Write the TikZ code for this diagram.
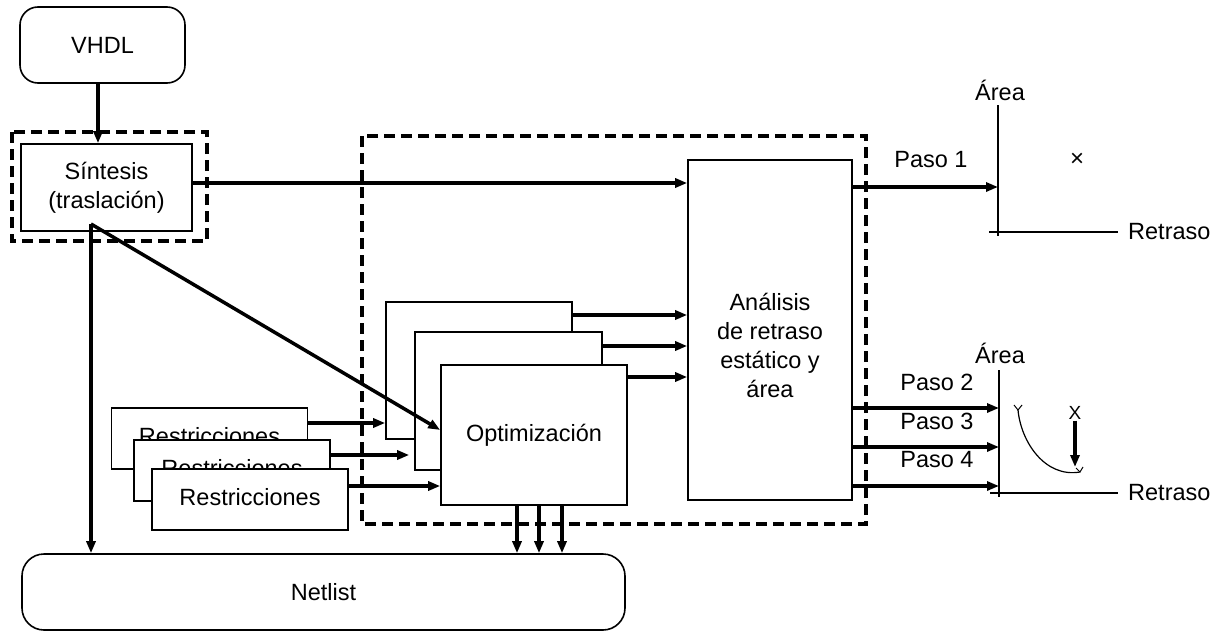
\documentclass[tikz,border=0pt]{standalone}
\usepackage{fontspec}
\setmainfont{Liberation Sans}
\usetikzlibrary{arrows.meta}

\begin{document}
\begin{tikzpicture}[x=1pt, y=-1pt, >={Triangle[length=12pt,width=9pt]},
		font=\fontsize{23.5}{29}\selectfont,
		box/.style={draw, line width=1.6pt, fill=white, inner sep=0pt, align=center},
		roundbox/.style={box, rounded corners=18pt},
		dashframe/.style={line width=3.5pt, dash pattern=on 11pt off 6pt},
		flow/.style={->, line width=3.5pt},
		axisline/.style={line width=1.6pt}]
		\useasboundingbox (0,0) rectangle (1219,632);
		% dashed groups
		\draw[dashframe] (12,132) rectangle (207,241);
		\draw[dashframe] (362,136) rectangle (866,524);
		% blocks
		\node[roundbox, minimum width=165, minimum height=76] (vhdl) at (102.5,45) {VHDL};
		\node[box, minimum width=171, minimum height=87] (sint) at (106.5,187.5) {Síntesis\\(traslación)};
		\node[box, minimum width=164, minimum height=340] (ana) at (770,330) {};
		\node[align=center] (anatxt) at (770,345) {Análisis\\de retraso\\estático y\\área};
		\node[box, minimum width=186, minimum height=137] (opt1) at (479,370.5) {};
		\node[box, minimum width=187, minimum height=138] (opt2) at (508.5,401) {};
		\node[box, minimum width=186, minimum height=140] (opt3) at (534,435) {Optimización};
		\foreach \i/\x/\y in {1/209.5/438.5, 2/232/470.5, 3/250/499.5}
			\node[box, minimum width=196, minimum height=61, text depth=6pt] (res\i) at (\x,\y) {Restricciones};
		\node[roundbox, rounded corners=22pt, minimum width=603, minimum height=76] (net) at (323.5,592) {Netlist};
		% connections
		\draw[flow] (vhdl.south -| 98,0) -- (sint.north -| 98,0);
		\coordinate (src) at (91,224);
		\draw[flow] (src) -- (net.north -| src);
		\draw[flow] (src) -- (opt3.west |- 0,430);
		\draw[flow] (sint.east |- 0,183) -- (ana.west |- 0,183);
		\draw[flow] (res1.east |- 0,423) -- (opt1.west |- 0,423);
		\draw[flow, shorten >=5pt] (res2.east |- 0,455) -- (opt2.west |- 0,455);
		\draw[flow] (res3.east |- 0,486) -- (opt3.west |- 0,486);
		\foreach \n/\y in {opt1/315, opt2/346, opt3/377}
			\draw[flow] (\n.east |- 0,\y) -- (ana.west |- 0,\y);
		\foreach \x in {517,539,562}
			\draw[flow] (opt3.south -| \x,0) -- (net.north -| \x,0);
		% first plot
		\coordinate (o1) at (998,232);
		\draw[axisline] (998,105) -- (998,236);
		\draw[axisline] (989,232) -- (1118,232);
		\node (area1) at (1000,90) {Área};
		\node[anchor=west, inner sep=0pt] (ret1) at (1128,232) {Retraso};
		\draw[flow] (ana.east |- 0,187) -- (o1 |- 0,187);
		\node (p1) at (931,160) {Paso 1};
		\node[font=\fontsize{24}{24}\selectfont] (pt1) at (1077,160) {×};
		% second plot
		\coordinate (o2) at (999,493);
		\draw[axisline] (999,370) -- (999,497);
		\draw[axisline] (990,493) -- (1118,493);
		\node (area2) at (1000,353) {Área};
		\node[anchor=west, inner sep=0pt] (ret2) at (1128,493) {Retraso};
		\foreach \k/\y in {2/408, 3/447, 4/486} {
			\draw[flow] (ana.east |- 0,\y) -- (o2 |- 0,\y);
			\node (p\k) at (937,\y-26) {Paso \k};
		}
		\draw[line width=1.2pt] (1018,410) .. controls (1021,442) and (1045,478) .. (1080,472);
		\draw[line width=1pt] (1014,405) -- (1018,410) -- (1022,405);
		\draw[line width=1pt] (1076,468) -- (1080,472) -- (1083,467);
		\node[font=\fontsize{19}{19}\selectfont, inner sep=1pt] (pt2) at (1075,413) {X};
		\draw[flow] (pt2.south) -- (1075,467);
	\end{tikzpicture}
\end{document}
